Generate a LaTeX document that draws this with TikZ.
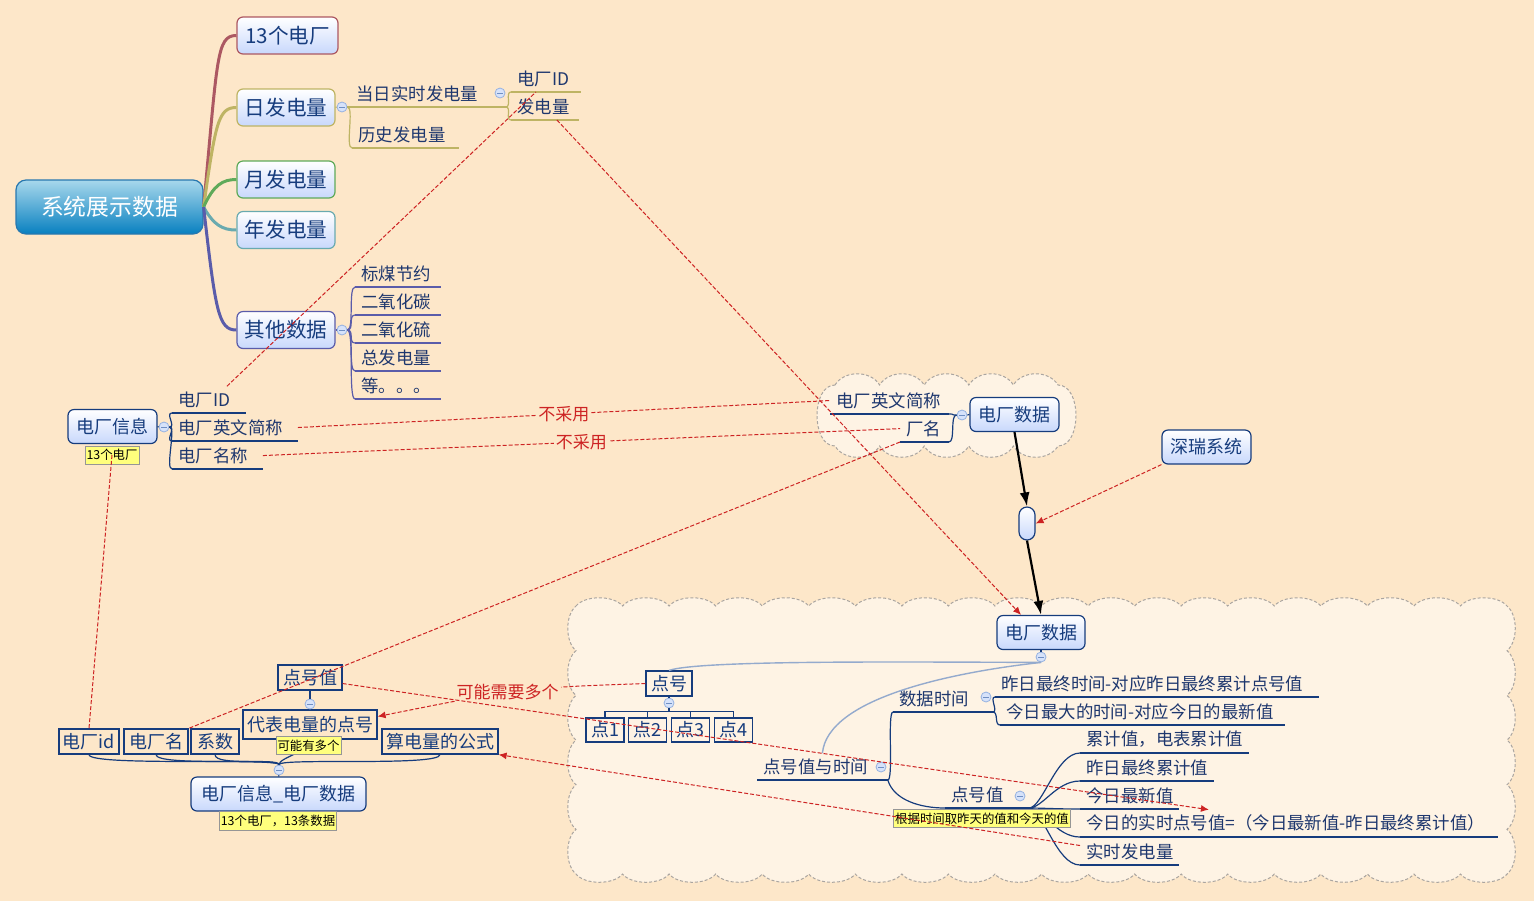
\documentclass[tikz,border=0pt]{standalone}
\usepackage{fontspec}
\setmainfont{Noto Sans CJK SC}
\usetikzlibrary{arrows.meta}

\definecolor{bgpeach}{RGB}{253,231,201}
\definecolor{cloudfill}{RGB}{254,243,228}
\definecolor{cloudline}{RGB}{170,165,160}
\definecolor{navy}{RGB}{22,60,125}
\definecolor{inktext}{RGB}{30,55,110}
\definecolor{topicfill}{RGB}{200,216,252}
\definecolor{rootlight}{RGB}{168,216,236}
\definecolor{rootdark}{RGB}{8,128,192}
\definecolor{rootline}{RGB}{40,120,175}
\definecolor{relred}{RGB}{205,35,35}
\definecolor{noteyellow}{RGB}{255,255,125}
\definecolor{notegray}{RGB}{150,150,150}
\definecolor{foldfill}{RGB}{214,226,250}
\definecolor{foldline}{RGB}{150,178,225}
\definecolor{liteline}{RGB}{148,170,205}
\definecolor{brA}{RGB}{172,88,98}
\definecolor{brB}{RGB}{190,180,100}
\definecolor{brC}{RGB}{95,170,90}
\definecolor{brD}{RGB}{105,170,175}
\definecolor{brE}{RGB}{90,92,170}

\newcommand{\leaffont}{\fontsize{8.7}{10}\selectfont}
\newcommand{\topicfont}{\fontsize{10.3}{12}\selectfont}
\newcommand{\boxfont}{\fontsize{9}{11}\selectfont}
\newcommand{\notefont}{\fontsize{6.2}{7}\selectfont}

\begin{document}
\begin{tikzpicture}[x=0.5pt,y=-0.5pt]

    \tikzset{
      rootbox/.style={draw=rootline,line width=0.6pt,rounded corners=5pt,top color=rootlight,bottom color=rootdark,
        text=white,font=\fontsize{11.4}{13}\selectfont,minimum width=93.5pt,minimum height=27pt},
      topic/.style={draw,line width=0.6pt,rounded corners=3pt,top color=white,bottom color=topicfill,
        text=navy,font=\topicfont,minimum width=49pt,minimum height=18.5pt,inner sep=1pt},
      rbox/.style={draw=navy,line width=0.6pt,rounded corners=3pt,top color=white,bottom color=topicfill,
        text=navy,font=\boxfont,minimum width=44.5pt,minimum height=17pt,inner sep=1pt},
      cell/.style={draw=navy,line width=0.6pt,text=navy,font=\boxfont,minimum height=12.5pt,inner sep=1pt},
      capsule/.style={draw=navy,line width=0.6pt,rounded corners=4pt,top color=white,bottom color=topicfill,
        minimum width=8pt,minimum height=16.5pt,inner sep=0pt},
      note/.style={draw=notegray,line width=0.4pt,fill=noteyellow,text=black,font=\notefont,inner sep=0.8pt,minimum height=9pt},
      leaf/.style={anchor=south west,inner xsep=3pt,inner ysep=2.5pt,align=left,font=\leaffont,text=inktext,
        append after command={(\tikzlastnode.south west) edge[draw=#1,line width=0.6pt] (\tikzlastnode.south east)}},
      fold/.style={circle,draw=foldline,fill=foldfill,line width=0.4pt,inner sep=0pt,minimum size=5pt,
        path picture={\draw[foldline!70!navy,line width=0.5pt] ([xshift=-1.4pt]path picture bounding box.center)
          -- ([xshift=1.4pt]path picture bounding box.center);}},
      branch/.style={line width=1.5pt},
      twig/.style={line width=0.6pt},
      lite/.style={draw=liteline,line width=0.7pt},
      cloud/.style={draw=cloudline,fill=cloudfill,line width=0.5pt,dash pattern=on 1.5pt off 1pt},
      rel/.style={draw=relred,line width=0.5pt,dash pattern=on 2pt off 1pt},
      relarrow/.style={rel,-{Latex[length=4pt,width=3.5pt]}},
      rellabel/.style={fill=bgpeach,text=relred,font=\fontsize{8.5}{10}\selectfont,inner sep=1pt},
      flow/.style={line width=1.1pt,-{Latex[length=7pt,width=5pt]}}
    }

    \fill[bgpeach] (0,0) rectangle (1534,901);
    \useasboundingbox (0,0) rectangle (1534,901);

    % clouds
    \draw[cloud] (576,606)
        \foreach \i in {1,...,20} { .. controls +(9,-11) and +(-9,-11) .. ++(46.55,0) }
        \foreach \i in {1,...,6} { .. controls +(11,9) and +(11,-9) .. ++(0,44.67) }
        \foreach \i in {1,...,20} { .. controls +(-9,11) and +(9,11) .. ++(-46.55,0) }
        \foreach \i in {1,...,6} { .. controls +(-11,-9) and +(-11,9) .. ++(0,-44.67) } -- cycle;
    \draw[cloud] (835,385)
        \foreach \i in {1,...,5} { .. controls +(9,-15) and +(-9,-15) .. ++(44.6,0) }
        .. controls +(24,0) and +(24,0) .. ++(0,61)
        \foreach \i in {1,...,5} { .. controls +(-9,15) and +(9,15) .. ++(-44.6,0) }
        .. controls +(-24,0) and +(-24,0) .. ++(0,-61) -- cycle;

    % system data map
    \node[rootbox] (r0) at (109.5,207) {系统展示数据};
    \node[topic,draw=brA,minimum width=50.5pt] (t1) at (287.5,35.5) {13个电厂};
    \node[topic,draw=brB] (t2) at (286,107.5) {日发电量};
    \node[topic,draw=brC] (t3) at (286,179.5) {月发电量};
    \node[topic,draw=brD] (t4) at (286,230) {年发电量};
    \node[topic,draw=brE] (t5) at (286,330) {其他数据};

    \draw[branch,brA] (r0.east) .. controls +(14,-150) and +(-20,0) .. (t1.west);
    \draw[branch,brB] (r0.east) .. controls +(12,-85) and +(-18,0) .. (t2.west);
    \draw[branch,brC] (r0.east) .. controls +(10,-22) and +(-14,0) .. (t3.west);
    \draw[branch,brD] (r0.east) .. controls +(10,18) and +(-14,0) .. (t4.west);
    \draw[branch,brE] (r0.east) .. controls +(12,105) and +(-18,0) .. (t5.west);

    \node[fold] (f1) at (342,107) {};
    \node[leaf=brB,text width=71.5pt] (ld1) at (350,107) {当日实时发电量};
    \node[leaf=brB,text width=47pt] (ld2) at (352,148) {历史发电量};
    \node[fold] (f10) at (500,93) {};
    \node[leaf=brB,text width=28.5pt] (ld3) at (511,92) {电厂ID};
    \node[leaf=brB,text width=27.5pt] (ld4) at (511,120) {发电量};
    \draw[twig,brB] (t2.east) -- (f1.west);
    \draw[twig,brB] (f1.east) -- (ld1.south west);
    \draw[twig,brB] (f1.east) .. controls +(7,0) and +(-7,0) .. (ld2.south west);
    \draw[twig,brB] (ld1.south east) .. controls +(6,0) and +(-6,0) .. (ld3.south west);
    \draw[twig,brB] (ld1.south east) .. controls +(6,0) and +(-6,0) .. (ld4.south west);

    \node[fold] (f2) at (342,330) {};
    \foreach \n/\y/\t in {1/287/标煤节约,2/315/二氧化碳,3/343/二氧化硫,4/371/总发电量,5/399/等。。。}
        \node[leaf=brE,text width=36.5pt] (lq\n) at (355,\y) {\t};
    \draw[twig,brE] (t5.east) -- (f2.west);
    \foreach \n in {1,...,5}
        \draw[twig,brE] (f2.east) .. controls +(7,0) and +(-7,0) .. (lq\n.south west);

    % plant info
    \node[rbox] (e0) at (112.5,426.5) {电厂信息};
    \node[fold] (f3) at (164,427) {};
    \node[leaf=navy,text width=30.5pt] (le1) at (172,413) {电厂ID};
    \node[leaf=navy,text width=56.5pt] (le2) at (172,441) {电厂英文简称};
    \node[leaf=navy,text width=39pt] (le3) at (172,469) {电厂名称};
    \draw[twig,navy] (e0.east) -- (f3.west);
    \foreach \n in {1,2,3}
        \draw[twig,navy] (f3.east) .. controls +(7,0) and +(-7,0) .. (le\n.south west);

    \node[rbox] (e1) at (1014.5,414.5) {电厂数据};
    \node[fold] (f4) at (962,415) {};
    \node[leaf=navy,text width=53pt] (lc1) at (830,414) {电厂英文简称};
    \node[leaf=navy,text width=18pt] (lc2) at (900,442) {厂名};
    \draw[twig,navy] (e1.west) -- (f4.east);
    \foreach \n in {1,2}
        \draw[twig,navy] (f4.west) .. controls +(-7,0) and +(7,0) .. (lc\n.south east);

    \node[rbox] (s1) at (1206.5,447) {深瑞系统};
    \node[capsule] (k1) at (1027,523.5) {};

    % plant data
    \node[rbox,minimum width=44pt] (e2) at (1041,632.5) {电厂数据};
    \node[fold] (f5) at (1041,657) {};
    \node[cell,minimum width=23pt] (b0) at (669,683.5) {点号};
    \node[fold] (f6) at (669,703) {};
    \foreach \n/\x in {1/605,2/647.5,3/690.5,4/733.5}
        \node[cell,minimum width=19pt,minimum height=12pt] (b\n) at (\x,730) {点\n};
    \draw[twig,navy] (e2.south) -- (f5.north);
    \draw[twig,navy] (b0.south) -- (f6.north);
    \foreach \n in {1,...,4}
        \draw[twig,navy] (f6.south) -- ++(0,3) -| (b\n.north);

    \node[leaf=navy,text width=59pt] (lt0) at (757,780) {点号值与时间};
    \node[fold] (f7) at (881,767) {};
    \node[leaf=navy,text width=43.5pt] (lt1) at (893,712) {数据时间};
    \node[fold] (f11) at (986,697) {};
    \node[leaf=navy,text width=155.5pt] (lt3) at (995,697) {昨日最终时间-对应昨日最终累计点号值};
    \node[leaf=navy,text width=136pt] (lt4) at (1000,725) {今日最大的时间-对应今日的最新值};
    \node[leaf=navy,text width=35.5pt] (lt2) at (945,808) {点号值};
    \node[fold] (f12) at (1020,796) {};
    \node[leaf=navy,text width=78pt] (lv1) at (1080,753) {累计值，电表累计值};
    \node[leaf=navy,text width=60.5pt] (lv2) at (1080,781) {昨日最终累计值};
    \node[leaf=navy,text width=43pt] (lv3) at (1080,809) {今日最新值};
    \node[leaf=navy,text width=202.5pt] (lv4) at (1080,837) {今日的实时点号值=（今日最新值-昨日最终累计值）};
    \node[leaf=navy,text width=43pt] (lv5) at (1080,865) {实时发电量};

    \draw[lite] (f5.south) .. controls (900,662) and (700,660) .. (b0.north);
    \draw[lite] (f5.south) .. controls +(-90,10) and +(5,-55) .. (lt0.north);
    \draw[twig,navy] (lt0.south east) .. controls +(6,0) and +(-6,0) .. (lt1.south west);
    \draw[twig,navy] (lt0.south east) .. controls +(6,20) and +(-25,0) .. (lt2.south west);
    \draw[twig,navy] (lt1.south east) .. controls +(6,0) and +(-6,0) .. (lt3.south west);
    \draw[twig,navy] (lt1.south east) .. controls +(6,0) and +(-6,0) .. (lt4.south west);
    \foreach \n in {1,...,5}
        \draw[twig,navy] (lt2.south east) .. controls +(14,0) and +(-24,0) .. (lv\n.south west);

    % plant info + plant data
    \node[rbox,minimum width=87.5pt] (g0) at (278.5,794) {电厂信息\_电厂数据};
    \node[fold] (f8) at (279,770) {};
    \node[cell,minimum width=30pt] (g1) at (89,741.5) {电厂id};
    \node[cell,minimum width=32pt] (g2) at (156,741.5) {电厂名};
    \node[cell,minimum width=24pt] (g3) at (215,741.5) {系数};
    \node[cell,minimum width=67pt,minimum height=14.5pt] (g4) at (310,724.5) {代表电量的点号};
    \node[cell,minimum width=58pt] (g5) at (440,741.5) {算电量的公式};
    \node[cell,minimum width=32pt] (g6) at (310,677.5) {点号值};
    \node[fold] (f9) at (310,704) {};
    \draw[twig,navy] (g0.north) -- (f8.south);
    \foreach \g in {g1,g2,g3,g4,g5}
        \draw[twig,navy] (f8.north) .. controls +(0,-7) and +(0,12) .. (\g.south);
    \draw[twig,navy] (g6.south) -- (f9.north);
    \draw[twig,navy] (f9.south) -- (g4.north);

    % notes
    \node[note,minimum width=27pt] (n1) at (112,455) {13个电厂};
    \node[note,minimum width=58pt,minimum height=9.5pt] (n2) at (278,820.5) {13个电厂，13条数据};
    \node[note,minimum width=86pt] (n3) at (982,818.5) {根据时间取昨天的值和今天的值};
    \node[note,minimum width=31.5pt] (n4) at (308.5,745.5) {可能有多个};

    % flow
    \draw[flow] (e1.south) -- (k1.north);
    \draw[flow] (k1.south) -- (e2.north);

    % relations
    \draw[rel] ([xshift=9pt]le1.north) -- ([xshift=-5pt]ld3.south);
    \draw[relarrow] ([xshift=6pt]ld4.south) -- ([xshift=-10pt]e2.north);
    \draw[rel] (le2.east) -- node[rellabel]{不采用} (lc1.west);
    \draw[rel] (le3.east) -- node[rellabel]{不采用} (lc2.west);
    \draw[rel] (lc2.south west) -- (g2.north east);
    \draw[rel] (n1.center) -- (g1.north);
    \draw[relarrow] (s1.south west) -- (k1.east);
    \draw[relarrow] (b0.west) .. controls (520,688) .. node[rellabel,pos=0.55]{可能需要多个} ([yshift=4pt]g4.east);
    \draw[relarrow] ([yshift=-3pt]g6.east) -- ([xshift=-40pt]lv4.north);
    \draw[relarrow] ([yshift=3pt]lv5.west) -- (g5.south east);

\end{tikzpicture}
\end{document}
